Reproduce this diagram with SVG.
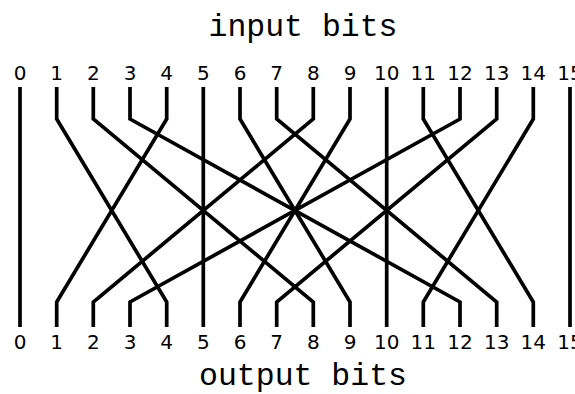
<svg xmlns="http://www.w3.org/2000/svg" width="575" height="394" viewBox="0 0 575 394">
<style>
.w{fill:none;stroke:#000;stroke-width:3.7;stroke-linejoin:miter;stroke-linecap:butt}
.n{font-family:"DejaVu Sans",Verdana,sans-serif;font-size:20px;text-anchor:middle;fill:#000}
.t{font-family:"Liberation Mono","Courier New",monospace;font-size:31.5px;text-anchor:middle;fill:#000}
</style>
<rect width="575" height="394" fill="#fff"/>
<g id="title-input"><text class="t" x="303" y="36">input bits</text></g>
<g id="title-output"><text class="t" x="303" y="385">output bits</text></g>
<g id="input-labels">
<text class="n" x="20" y="80">0</text><text class="n" x="56.7" y="80">1</text><text class="n" x="93.3" y="80">2</text><text class="n" x="130" y="80">3</text>
<text class="n" x="166.7" y="80">4</text><text class="n" x="203.3" y="80">5</text><text class="n" x="240" y="80">6</text><text class="n" x="276.7" y="80">7</text>
<text class="n" x="313.3" y="80">8</text><text class="n" x="350" y="80">9</text><text class="n" x="386.7" y="80">10</text><text class="n" x="423.3" y="80">11</text>
<text class="n" x="460" y="80">12</text><text class="n" x="496.7" y="80">13</text><text class="n" x="533.3" y="80">14</text><text class="n" x="570" y="80">15</text>
</g>
<g id="output-labels">
<text class="n" x="20" y="349">0</text><text class="n" x="56.7" y="349">1</text><text class="n" x="93.3" y="349">2</text><text class="n" x="130" y="349">3</text>
<text class="n" x="166.7" y="349">4</text><text class="n" x="203.3" y="349">5</text><text class="n" x="240" y="349">6</text><text class="n" x="276.7" y="349">7</text>
<text class="n" x="313.3" y="349">8</text><text class="n" x="350" y="349">9</text><text class="n" x="386.7" y="349">10</text><text class="n" x="423.3" y="349">11</text>
<text class="n" x="460" y="349">12</text><text class="n" x="496.7" y="349">13</text><text class="n" x="533.3" y="349">14</text><text class="n" x="570" y="349">15</text>
</g>
<g id="connectors">
<polyline class="w" points="20,87 20,119 20,302 20,327"/>
<polyline class="w" points="56.7,87 56.7,119 166.7,302 166.7,327"/>
<polyline class="w" points="93.3,87 93.3,119 313.3,302 313.3,327"/>
<polyline class="w" points="130,87 130,119 460,302 460,327"/>
<polyline class="w" points="166.7,87 166.7,119 56.7,302 56.7,327"/>
<polyline class="w" points="203.3,87 203.3,119 203.3,302 203.3,327"/>
<polyline class="w" points="240,87 240,119 350,302 350,327"/>
<polyline class="w" points="276.7,87 276.7,119 496.7,302 496.7,327"/>
<polyline class="w" points="313.3,87 313.3,119 93.3,302 93.3,327"/>
<polyline class="w" points="350,87 350,119 240,302 240,327"/>
<polyline class="w" points="386.7,87 386.7,119 386.7,302 386.7,327"/>
<polyline class="w" points="423.3,87 423.3,119 533.3,302 533.3,327"/>
<polyline class="w" points="460,87 460,119 130,302 130,327"/>
<polyline class="w" points="496.7,87 496.7,119 276.7,302 276.7,327"/>
<polyline class="w" points="533.3,87 533.3,119 423.3,302 423.3,327"/>
<polyline class="w" points="570,87 570,119 570,302 570,327"/>
</g>
</svg>
